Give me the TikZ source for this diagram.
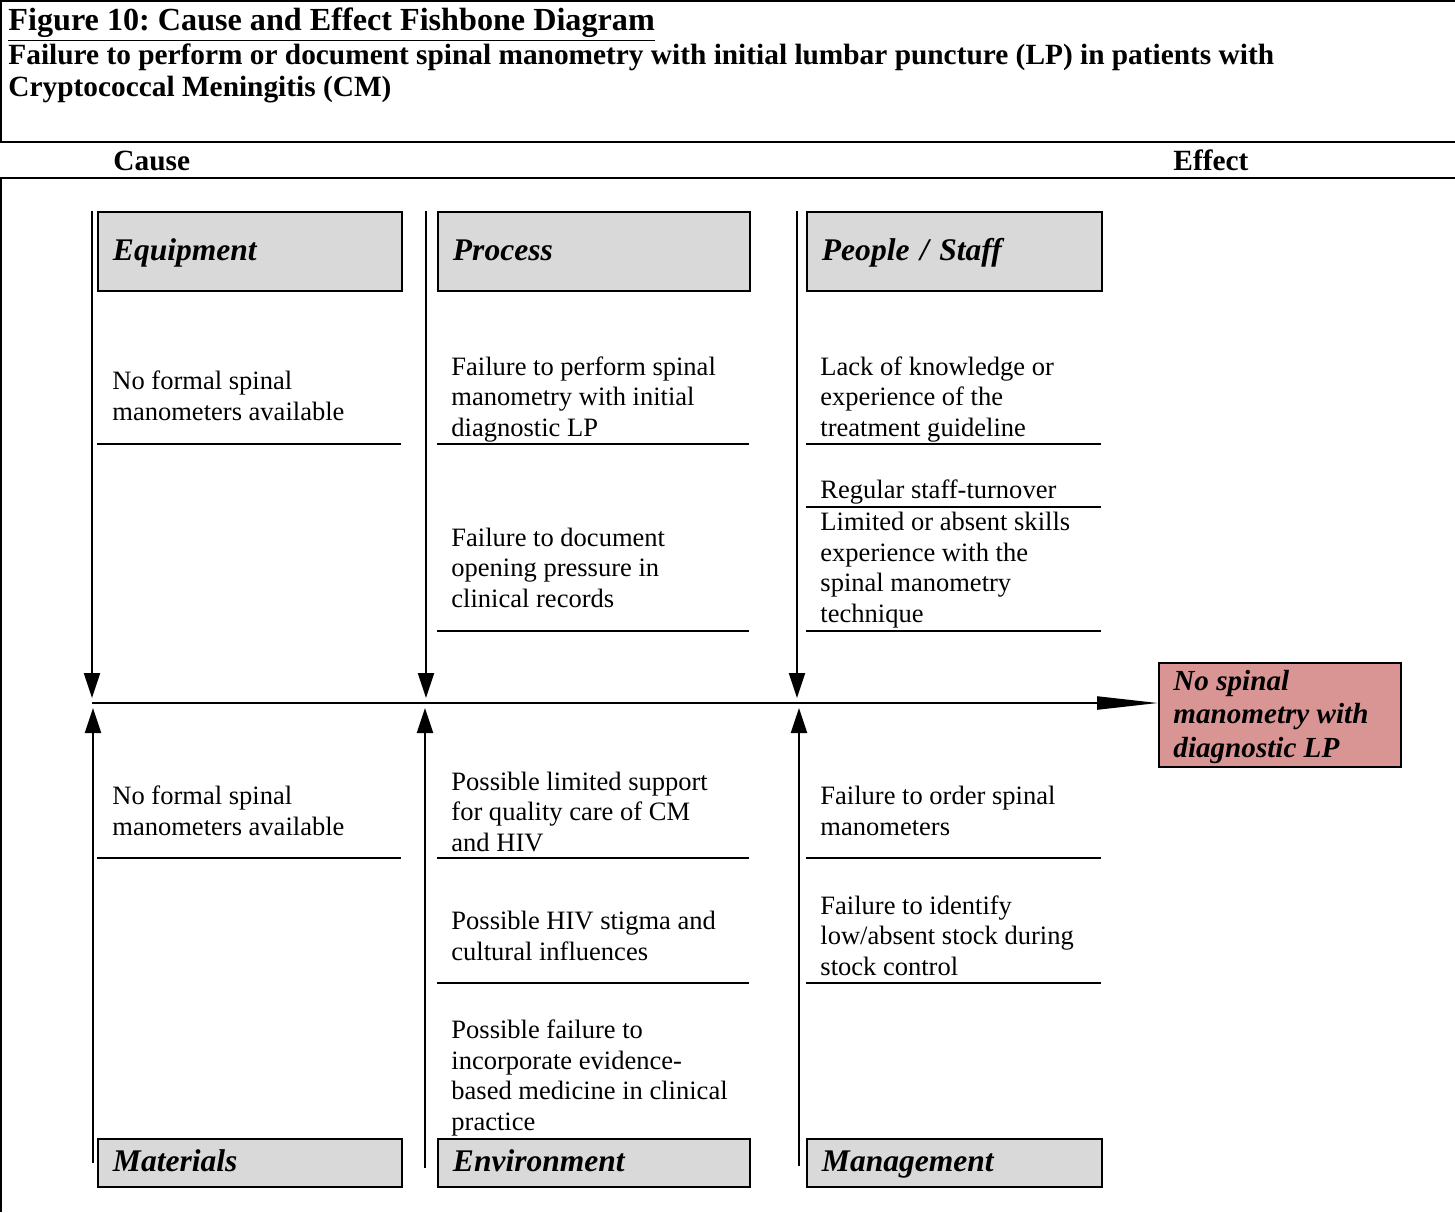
\documentclass[tikz,border=0pt]{standalone}
\usepackage{fontspec}
\setmainfont{Liberation Serif}
\usetikzlibrary{arrows.meta,calc}
\definecolor{boxgray}{HTML}{D9D9D9}
\definecolor{effectred}{HTML}{D99594}
\frenchspacing
\begin{document}
\begin{tikzpicture}[
        x=0.46pt, y=-0.46pt,
        frame/.style={line width=1pt, black},
        category/.style={rectangle, draw=black, fill=boxgray, line width=0.9pt, anchor=north west, align=left,
            inner xsep=6.9pt, text width=#1, text height=10pt, text depth=2pt,
            font=\fontsize{14.5}{16}\selectfont\bfseries\itshape},
        cause/.style={anchor=base west, align=left, inner sep=0pt, font=\fontsize{12.2}{14}\selectfont},
        heading/.style={anchor=base west, align=left, inner sep=0pt, font=\fontsize{13.5}{14.3}\selectfont\bfseries},
        cutline/.style={line width=0.7pt, black},
        bone/.style={line width=0.9pt, -{Triangle[length=11.5pt, width=7.4pt]}},
        spine/.style={line width=0.9pt, -{Triangle[length=28pt, width=6pt]}},
        effectbox/.style={rectangle, draw=black, fill=effectred, line width=0.9pt, anchor=north west,
            minimum width=111.3pt, minimum height=47.8pt, inner sep=0pt},
        effecttext/.style={anchor=base west, align=left, inner sep=0pt, font=\fontsize{13.4}{15.2}\selectfont\bfseries\itshape}
    ]
        \useasboundingbox (0,0) rectangle (1455,1212);

        % frame and header rows
        \draw[frame] (0,1) -- (1455,1);
        \draw[frame] (1,0) -- (1,142);
        \draw[frame] (1,178) -- (1,1212);
        \draw[frame] (0,142) -- (1455,142);
        \draw[frame] (0,178) -- (1455,178);

        \node[anchor=base west, inner sep=0pt, font=\fontsize{14.8}{16}\selectfont\bfseries] (title) at (8,30)
            {\underline{Figure 10: Cause and Effect Fishbone Diagram}};
        \node[heading] (subtitle) at (8,96) {Failure to perform or document spinal manometry with initial lumbar puncture (LP) in patients with\\Cryptococcal Meningitis (CM)};
        \node[heading] (cause-head) at (113,170) {Cause};
        \node[heading] (effect-head) at (1173,170) {Effect};

        % categories
        \node[category=126pt, minimum height=36.3pt] (equipment) at (97,211) {Equipment};
        \node[category=129.7pt, minimum height=36.3pt] (process) at (437,211) {Process};
        \node[category=121.9pt, minimum height=36.3pt] (people) at (806,211) {People / Staff};
        \node[category=126pt, minimum height=22.1pt] (materials) at (97,1138) {Materials};
        \node[category=129.7pt, minimum height=22.1pt] (environment) at (437,1138) {Environment};
        \node[category=121.9pt, minimum height=22.1pt] (management) at (806,1138) {Management};

        % effect
        \node[effectbox] (effect) at (1158,662) {};
        \node[effecttext] (effect-label) at (1173,757) {No spinal\\manometry with\\diagnostic LP};

        % spine and bones
        \coordinate (s-eq) at (92,703);
        \coordinate (s-pr) at (426,703);
        \coordinate (s-pe) at (797,703);
        \coordinate (eq-top) at (92,211);
        \coordinate (pr-top) at (426,211);
        \coordinate (pe-top) at (797,211);
        \coordinate (ma-bot) at (93,1163);
        \coordinate (en-bot) at (425,1168);
        \coordinate (mg-bot) at (799,1166);

        \draw[spine] (s-eq) -- (s-eq -| effect.west);
        \draw[bone] (eq-top) -- ($(s-eq)+(0,-5)$);
        \draw[bone] (pr-top) -- ($(s-pr)+(0,-5)$);
        \draw[bone] (pe-top) -- ($(s-pe)+(0,-5)$);
        \draw[bone] (ma-bot) -- ($(s-eq)+(1,5)$);
        \draw[bone] (en-bot) -- ($(s-pr)+(-1,5)$);
        \draw[bone] (mg-bot) -- ($(s-pe)+(2,5)$);

        % causes above the spine (placed at the baseline of their last line)
        \node[cause] (eq-1) at (112,420) {No formal spinal\\manometers available};
        \node[cause] (pr-1) at (451,436) {Failure to perform spinal\\manometry with initial\\diagnostic LP};
        \node[cause] (pr-2) at (451,607) {Failure to document\\opening pressure in\\clinical records};
        \node[cause] (pe-1) at (820,436) {Lack of knowledge or\\experience of the\\treatment guideline};
        \node[cause] (pe-2) at (820,498) {Regular staff-turnover};
        \node[cause] (pe-3) at (820,622) {Limited or absent skills\\experience with the\\spinal manometry\\technique};

        \draw[cutline] (97,444) -- (401,444);
        \draw[cutline] (437,444) -- (749,444);
        \draw[cutline] (806,444) -- (1101,444);
        \draw[cutline] (806,507) -- (1101,507);
        \draw[cutline] (437,631) -- (749,631);
        \draw[cutline] (806,631) -- (1101,631);

        % causes below the spine
        \node[cause] (ma-1) at (112,835) {No formal spinal\\manometers available};
        \node[cause] (en-1) at (451,851) {Possible limited support\\for quality care of CM\\and HIV};
        \node[cause] (en-2) at (451,960) {Possible HIV stigma and\\cultural influences};
        \node[cause] (en-3) at (451,1130) {Possible failure to\\incorporate evidence-\\based medicine in clinical\\practice};
        \node[cause] (mg-1) at (820,835) {Failure to order spinal\\manometers};
        \node[cause] (mg-2) at (820,975) {Failure to identify\\low/absent stock during\\stock control};

        \draw[cutline] (97,858) -- (401,858);
        \draw[cutline] (437,858) -- (749,858);
        \draw[cutline] (806,858) -- (1101,858);
        \draw[cutline] (437,983) -- (749,983);
        \draw[cutline] (806,983) -- (1101,983);
    \end{tikzpicture}
\end{document}
